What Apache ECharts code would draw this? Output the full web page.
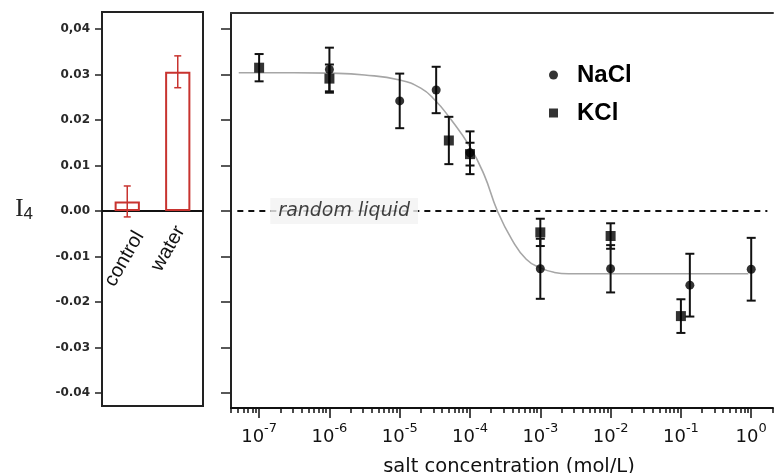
<!DOCTYPE html>
<html><head><meta charset="utf-8">
<script src="https://cdn.jsdelivr.net/npm/echarts@6/dist/echarts.min.js"></script>
<style>html,body{margin:0;padding:0;background:#fff}#c{width:774px;height:473px}</style>
</head><body><div id="c"></div>
<script>
// ---- Left panel (bars) ----
const barCategories = ['control', 'water'];
const barValues = [0.0021, 0.0306];
const barErrors = [0.0034, 0.0035];

// ---- Right panel: salt concentration (mol/L), I4, error ----
const naclConc = [1e-6, 1e-5, 3.3e-5, 1e-4, 1e-3, 1e-2, 0.134, 1];
const naclValues = [0.0311, 0.0242, 0.0266, 0.0128, -0.0127, -0.0127, -0.0163, -0.0128];
const naclErrors = [0.0048, 0.0060, 0.0051, 0.0047, 0.0066, 0.0052, 0.0069, 0.0069];

const kclConc = [1e-7, 1e-6, 5e-5, 1e-4, 1e-3, 1e-2, 0.1];
const kclValues = [0.0315, 0.0291, 0.0155, 0.0125, -0.0047, -0.0055, -0.0231];
const kclErrors = [0.0030, 0.0031, 0.0052, 0.0025, 0.0030, 0.0028, 0.0037];

// fitted curve (log10 of concentration, I4)
const fitLogConc = [-7.29, -6.5, -6.0, -5.5, -5.0, -4.7, -4.5, -4.3, -4.0, -3.8, -3.61, -3.4, -3.2, -3.0, -2.8, -2.6, -2.2, -1.5, -0.04];
const fitValues  = [0.0304, 0.0304, 0.0303, 0.0299, 0.0288, 0.0270, 0.0244, 0.0207, 0.0141, 0.0080, 0.0000, -0.0064, -0.0106, -0.0125, -0.0135, -0.0138, -0.0138, -0.0138, -0.0138];

// random liquid reference level
const randomLiquidLogConc = [-7.31, 0.23];
const randomLiquidValue = 0;

// ticks
const yTickValues = [-0.04, -0.03, -0.02, -0.01, 0, 0.01, 0.02, 0.03, 0.04];
const yTickLabels = ['-0.04', '-0.03', '-0.02', '-0.01', '0.00', '0.01', '0.02', '0.03', '0,04'];
const xTickExponents = [-7, -6, -5, -4, -3, -2, -1, 0];

// minor log ticks
const xMinMax = [-7.4, 0.31];
const xMinorTicks = [];
for (let n = -8; n <= 0; n++) {
  for (let k = 2; k <= 9; k++) {
    const v = n + Math.log10(k);
    if (v > xMinMax[0] && v < xMinMax[1]) xMinorTicks.push(v);
  }
}

function errRender(color, capHalf, lw) {
  return function (params, api) {
    const x = api.value(0), lo = api.value(1), hi = api.value(2);
    const p1 = api.coord([x, lo]), p2 = api.coord([x, hi]);
    const st = { stroke: color, lineWidth: lw };
    return {
      type: 'group', children: [
        { type: 'line', shape: { x1: p1[0], y1: p1[1], x2: p2[0], y2: p2[1] }, style: st },
        { type: 'line', shape: { x1: p1[0] - capHalf, y1: p1[1], x2: p1[0] + capHalf, y2: p1[1] }, style: st },
        { type: 'line', shape: { x1: p2[0] - capHalf, y1: p2[1], x2: p2[0] + capHalf, y2: p2[1] }, style: st }
      ]
    };
  };
}

const red = '#c8332f';
const ink = '#111';

// left panel geometry
const leftGrid = { left: 102, top: 12, width: 101, height: 394 };
const leftY = [-0.04286, 0.04374];
// category axis sits on the zero line
const zeroOffset = -leftGrid.height * (0 - leftY[0]) / (leftY[1] - leftY[0]);

const barErrData = barValues.map((v, i) => [i, v - barErrors[i], v + barErrors[i]]);
const naclPts = naclConc.map((c, i) => [Math.log10(c), naclValues[i]]);
const naclErr = naclConc.map((c, i) => [Math.log10(c), naclValues[i] - naclErrors[i], naclValues[i] + naclErrors[i]]);
const kclPts = kclConc.map((c, i) => [Math.log10(c), kclValues[i]]);
const kclErr = kclConc.map((c, i) => [Math.log10(c), kclValues[i] - kclErrors[i], kclValues[i] + kclErrors[i]]);
const fitPts = fitLogConc.map((x, i) => [x, fitValues[i]]);
const rlPts = randomLiquidLogConc.map(x => [x, randomLiquidValue]);

const chart = echarts.init(document.getElementById('c'), null, { renderer: 'canvas' });
chart.setOption({
  animation: false,
  backgroundColor: '#fff',
  grid: [
    Object.assign({ show: true, borderColor: '#222', borderWidth: 2, backgroundColor: 'transparent', outerBoundsMode: 'none', containLabel: false }, leftGrid),
    { left: 231, top: 13, width: 542, height: 395, show: false, outerBoundsMode: 'none', containLabel: false }
  ],
  legend: {
    orient: 'vertical', left: 544, top: 57, itemWidth: 9, itemHeight: 9, itemGap: 12,
    selectedMode: false,
    data: [{ name: 'NaCl', icon: 'circle' }, { name: 'KCl', icon: 'rect' }],
    textStyle: { fontFamily: 'Liberation Sans', fontWeight: 'bold', fontSize: 24, color: '#000', lineHeight: 26, padding: [0, 0, 0, 14] }
  },
  xAxis: [
    {
      type: 'category', gridIndex: 0, data: barCategories, position: 'bottom',
      offset: zeroOffset,
      axisLine: { show: true, onZero: false, lineStyle: { color: ink, width: 2 } },
      axisTick: { show: false },
      axisLabel: {
        rotate: 60, margin: 15, fontSize: 20, fontFamily: 'Liberation Sans', color: ink, verticalAlign: 'middle',
        formatter: (v, i) => (i === 0 ? '{a|' : '{b|') + v + '}',
        rich: {
          a: { fontSize: 20, fontFamily: 'Liberation Sans', color: ink, lineHeight: 20, padding: [28, 0, 0, 0] },
          b: { fontSize: 20, fontFamily: 'Liberation Sans', color: ink, lineHeight: 20, padding: [6, 0, 0, 0] }
        }
      },
      splitLine: { show: false }
    },
    {
      type: 'value', gridIndex: 1, min: xMinMax[0], max: xMinMax[1], position: 'bottom',
      axisLine: { show: true, onZero: false, lineStyle: { color: ink, width: 2 } },
      axisTick: { show: true, length: 10, lineStyle: { color: ink, width: 1.5 }, customValues: xTickExponents },
      axisLabel: {
        show: true, margin: 14, customValues: xTickExponents,
        formatter: v => '{b|10}{e|' + Math.round(v) + '}',
        rich: {
          b: { fontSize: 18, fontFamily: 'DejaVu Sans', color: ink, lineHeight: 24, verticalAlign: 'bottom' },
          e: { fontSize: 13, fontFamily: 'DejaVu Sans', color: ink, lineHeight: 14, verticalAlign: 'top' }
        }
      },
      splitLine: { show: false },
      name: 'salt concentration (mol/L)', nameLocation: 'middle', nameGap: 49,
      nameTextStyle: { fontSize: 19.5, fontFamily: 'DejaVu Sans', color: ink, padding: [0, 0, 0, 14] }
    },
    {
      type: 'value', gridIndex: 1, min: xMinMax[0], max: xMinMax[1], position: 'bottom',
      axisLine: { show: false, onZero: false },
      axisTick: { show: true, length: 5, lineStyle: { color: ink, width: 1.5 }, customValues: xMinorTicks },
      axisLabel: { show: false },
      splitLine: { show: false }
    },
    {
      type: 'value', gridIndex: 1, min: xMinMax[0], max: xMinMax[1], position: 'top',
      axisLine: { show: true, onZero: false, lineStyle: { color: '#333', width: 2 } },
      axisTick: { show: false }, axisLabel: { show: false }, splitLine: { show: false }
    }
  ],
  yAxis: [
    {
      type: 'value', gridIndex: 0, min: leftY[0], max: leftY[1],
      axisLine: { show: true, onZero: false, lineStyle: { color: '#222', width: 2 } },
      axisTick: { show: true, length: 7, lineStyle: { color: '#222', width: 1.5 }, customValues: yTickValues },
      axisLabel: {
        show: true, margin: 12, customValues: yTickValues,
        fontFamily: 'DejaVu Sans', fontWeight: 'bold', fontSize: 12, color: '#2a2a2a',
        formatter: v => { const i = yTickValues.findIndex(t => Math.abs(t - v) < 1e-9); return i >= 0 ? yTickLabels[i] : ''; }
      },
      splitLine: { show: false },
      name: '{i|I}{s|4}', nameLocation: 'middle', nameRotate: 0, nameGap: 69,
      nameTextStyle: {
        rich: {
          i: { fontSize: 25, fontFamily: 'Liberation Serif', color: '#222', lineHeight: 28 },
          s: { fontSize: 17, fontFamily: 'Liberation Sans', color: '#222', verticalAlign: 'bottom', lineHeight: 18, padding: [10, 0, 0, 0] }
        }
      }
    },
    {
      type: 'value', gridIndex: 1, min: -0.0433, max: 0.04352,
      axisLine: { show: true, onZero: false, lineStyle: { color: '#222', width: 2 } },
      axisTick: { show: true, length: 10, lineStyle: { color: '#222', width: 1.5 }, customValues: yTickValues },
      axisLabel: { show: false },
      splitLine: { show: false }
    }
  ],
  series: [
    {
      type: 'bar', xAxisIndex: 0, yAxisIndex: 0, data: barValues, barWidth: '50%',
      itemStyle: { color: '#fff', borderColor: red, borderWidth: 2 }, z: 2
    },
    {
      type: 'custom', xAxisIndex: 0, yAxisIndex: 0, data: barErrData,
      renderItem: errRender(red, 3.5, 1.5), encode: { x: 0, y: [1, 2] }, z: 3
    },
    {
      type: 'line', name: 'random liquid', xAxisIndex: 1, yAxisIndex: 1, data: rlPts,
      symbol: 'none', lineStyle: { color: ink, width: 2, type: [6, 5] }, z: 2, silent: true
    },
    {
      type: 'scatter', xAxisIndex: 1, yAxisIndex: 1, data: [[-5.79, randomLiquidValue]],
      symbolSize: 1, itemStyle: { color: 'rgba(0,0,0,0)' }, z: 4, silent: true,
      label: {
        show: true, position: 'inside', formatter: 'random liquid',
        fontFamily: 'DejaVu Sans', fontStyle: 'italic', fontSize: 19, color: ink,
        backgroundColor: '#f2f2f2', padding: [3, 8, 4, 8]
      }
    },
    {
      type: 'line', xAxisIndex: 1, yAxisIndex: 1, data: fitPts, smooth: 0.5,
      symbol: 'none', lineStyle: { color: '#a6a6a6', width: 1.6 }, z: 3, silent: true
    },
    {
      type: 'custom', xAxisIndex: 1, yAxisIndex: 1, data: naclErr,
      renderItem: errRender(ink, 4.5, 2), encode: { x: 0, y: [1, 2] }, z: 5
    },
    {
      type: 'custom', xAxisIndex: 1, yAxisIndex: 1, data: kclErr,
      renderItem: errRender(ink, 4.5, 2), encode: { x: 0, y: [1, 2] }, z: 5
    },
    {
      type: 'scatter', name: 'NaCl', xAxisIndex: 1, yAxisIndex: 1, data: naclPts,
      symbol: 'circle', symbolSize: 9, itemStyle: { color: '#000' }, z: 6
    },
    {
      type: 'scatter', name: 'KCl', xAxisIndex: 1, yAxisIndex: 1, data: kclPts,
      symbol: 'rect', symbolSize: 10, itemStyle: { color: '#000' }, z: 6
    }
  ]
});
</script>
</body></html>
